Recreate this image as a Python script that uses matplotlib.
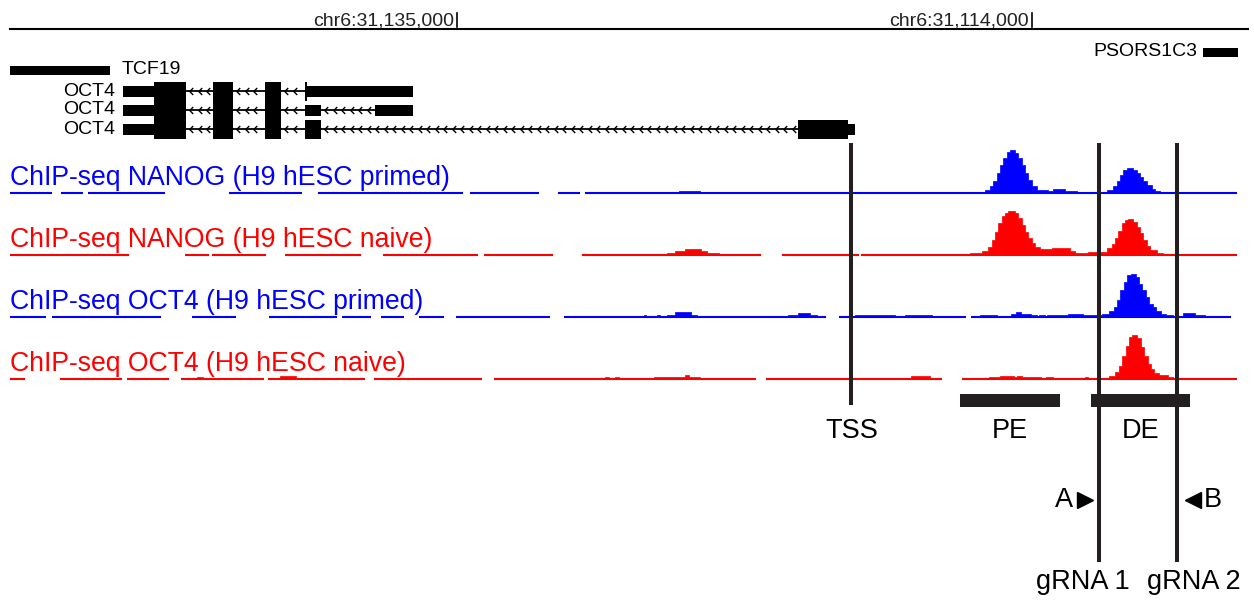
import numpy as np
import matplotlib.pyplot as plt
from matplotlib.path import Path

plt.rcParams['font.family'] = ['Liberation Sans', 'DejaVu Sans']

# the browser window is laid out in screen columns (0..1254), rows grow downwards
tick_pos = [457, 1032]
tick_labels = ['chr6:31,135,000', 'chr6:31,114,000']

# gene annotation track
tcf19_span = (10, 110)
psors1c3_span = (1203, 1238)
oct4_rows = [91, 110, 129]
oct4_iso1 = [(123, 154, 'utr'), (154, 186, 'cds'), (213, 233, 'cds'), (265, 281, 'cds'),
             (305, 307, 'cds'), (307, 413, 'utr')]
oct4_iso2 = [(123, 154, 'utr'), (154, 186, 'cds'), (213, 233, 'cds'), (265, 281, 'cds'),
             (305, 321, 'utr'), (375, 413, 'utr')]
oct4_iso3 = [(123, 154, 'utr'), (154, 186, 'cds'), (213, 233, 'cds'), (265, 281, 'cds'),
             (305, 321, 'cds'), (798, 848, 'cds'), (848, 855, 'utr')]

# ChIP-seq tracks
track_labels = ['ChIP-seq NANOG (H9 hESC primed)', 'ChIP-seq NANOG (H9 hESC naive)',
                'ChIP-seq OCT4 (H9 hESC primed)', 'ChIP-seq OCT4 (H9 hESC naive)']
track_colors = ['#0000ff', '#ff0000', '#0000ff', '#ff0000']
track_base = [193, 255, 317, 379]

# covered stretches (drawn as the baseline)
nanog_primed_cov = [(10, 52), (61, 83), (88, 165), (229, 302), (318, 463), (470, 539),
                    (558, 580), (585, 1237)]
nanog_naive_cov = [(10, 129), (185, 209), (212, 266), (285, 361), (383, 478), (484, 553),
                   (582, 761), (782, 859), (861, 1237)]
oct4_primed_cov = [(10, 46), (52, 161), (192, 236), (269, 337), (342, 371), (381, 404),
                   (419, 444), (456, 550), (564, 826), (839, 966), (971, 1231)]
oct4_naive_cov = [(10, 25), (60, 122), (127, 169), (181, 264), (268, 365), (374, 482),
                  (494, 756), (766, 942), (962, 1237)]

# signal islands: (bin edges, bin heights in px)
nanog_primed_sig = [
    ([679, 700], [2]),
    ([975, 985, 990, 993, 997, 1000, 1003, 1007, 1010, 1015, 1018, 1022, 1025, 1028, 1032,
      1037, 1048, 1053, 1065, 1077],
     [1.5, 3, 7, 12, 20, 28, 35, 41, 43, 40, 35, 28, 20, 13, 7, 3, 2, 4, 2]),
    ([1102, 1107, 1113, 1117, 1120, 1123, 1127, 1133, 1137, 1140, 1143, 1147, 1152, 1155, 1160],
     [1, 3, 7, 12, 18, 23, 25, 23, 20, 16, 12, 8, 4, 2]),
]
nanog_naive_sig = [
    ([667, 675, 685, 701, 707, 719], [2, 4, 6, 4, 2]),
    ([970, 982, 988, 992, 995, 998, 1002, 1005, 1008, 1015, 1018, 1022, 1025, 1028, 1032,
      1035, 1040, 1052, 1070, 1075, 1088, 1097, 1102, 1107, 1112, 1115, 1118, 1122, 1125,
      1128, 1133, 1137, 1140, 1143, 1147, 1150, 1157, 1163],
     [2, 4, 8, 15, 23, 32, 39, 42, 44, 42, 37, 30, 23, 17, 12, 8, 6, 7, 4, 2, 3,
      3, 3, 7, 11, 17, 24, 32, 35, 36, 33, 28, 22, 15, 9, 5, 2]),
]
oct4_primed_sig = [
    ([644, 646], [2]), ([657, 660], [2]), ([667, 675, 691, 697], [2, 5, 2]),
    ([788, 798, 810, 817], [2, 4, 2]), ([855, 895], [2]), ([905, 932], [2]),
    ([980, 997, 1011, 1016, 1021, 1031, 1037], [2, 1, 3, 5, 3, 2]), ([1039, 1045], [2]),
    ([1047, 1068, 1083, 1102, 1109, 1114, 1117, 1120, 1124, 1127, 1131, 1136, 1139, 1142,
      1146, 1149, 1153, 1156, 1161, 1166, 1173],
     [2, 3, 2, 3, 6, 10, 17, 27, 35, 42, 43, 40, 33, 27, 20, 13, 10, 6, 3, 2]),
    ([1183, 1195, 1205], [4, 2]),
]
oct4_naive_sig = [
    ([197, 203], [2]), ([280, 296], [3]), ([605, 609], [2]), ([615, 619], [2]),
    ([654, 685, 689, 700], [2, 4, 2]), ([911, 930], [3]),
    ([989, 1000, 1014, 1017, 1022, 1041], [2, 3, 2, 3, 2]), ([1046, 1053], [2]),
    ([1085, 1088], [2]),
    ([1104, 1109, 1115, 1119, 1122, 1126, 1129, 1132, 1137, 1141, 1144, 1148, 1151, 1154,
      1159, 1168, 1173],
     [1, 3, 7, 13, 23, 33, 42, 44, 41, 32, 23, 15, 10, 6, 4, 2]),
]
track_cov = [nanog_primed_cov, nanog_naive_cov, oct4_primed_cov, oct4_naive_cov]
track_sig = [nanog_primed_sig, nanog_naive_sig, oct4_primed_sig, oct4_naive_sig]

# landmarks
mark_names = ['TSS', 'gRNA 1', 'gRNA 2']
mark_x = [851, 1099, 1177]
mark_bottom = [405, 562, 562]
enh_names = ['PE', 'DE']
enh_start = [960, 1091]
enh_end = [1060, 1190]

ink = '#231f20'

fig = plt.figure(figsize=(12.54, 6.03), dpi=100)
ax = fig.add_axes([0, 0, 1, 1])
ax.set_xlim(0, 1254)
ax.set_ylim(603, 0)
ax.axis('off')

# ruler
ax.plot([10, 1248], [29, 29], color='black', lw=1.5)
for p, lab in zip(tick_pos, tick_labels):
    ax.plot([p, p], [13, 27], color='black', lw=1.2)
    ax.text(p - 3, 25, lab, ha='right', va='baseline', fontsize=14, color='#222222')

# genes
ax.barh([70], [tcf19_span[1] - tcf19_span[0]], left=[tcf19_span[0]], height=9, color='black')
ax.text(122, 70, 'TCF19', ha='left', va='center', fontsize=14)
ax.barh([52], [psors1c3_span[1] - psors1c3_span[0]], left=[psors1c3_span[0]], height=9, color='black')
ax.text(1197, 52, 'PSORS1C3', ha='right', va='center', fontsize=14)

chevron = Path([(0.5, 1), (-0.5, 0), (0.5, -1)], [Path.MOVETO, Path.LINETO, Path.LINETO])
for y, iso in zip(oct4_rows, [oct4_iso1, oct4_iso2, oct4_iso3]):
    ax.text(115, y, 'OCT4', ha='right', va='center', fontsize=14)
    for (s0, e0, _), (s1, e1, _) in zip(iso[:-1], iso[1:]):
        if s1 > e0:
            ax.plot([e0, s1], [y, y], color='black', lw=1.3)
            cx = np.arange(e0 + 5, s1 - 2, 8.5)
            ax.plot(cx, np.full(len(cx), y), ls='none', marker=chevron, ms=5,
                    mfc='none', mec='black', mew=1)
    for s, e, kind in iso:
        ax.barh([y], [e - s], left=[s], height=19 if kind == 'cds' else 11,
                color='black', lw=0)

# ChIP-seq tracks
for lab, col, base, cov, sig in zip(track_labels, track_colors, track_base, track_cov, track_sig):
    for s, e in cov:
        ax.plot([s, e], [base, base], color=col, lw=1.5, solid_capstyle='butt')
    for edges, h in sig:
        xs = np.repeat(np.array(edges, dtype=float), 2)[1:-1]
        ys = np.repeat(np.array(h, dtype=float), 2)
        ax.fill_between(xs, base, base - ys, color=col, lw=0.5)
    ax.text(10, base - 8, lab, ha='left', va='baseline', fontsize=19.2, color=col)

# landmark lines
for x, yb in zip(mark_x, mark_bottom):
    ax.plot([x, x], [143, yb], color=ink, lw=2.9, solid_capstyle='butt')

ax.barh([400.5] * 2, np.array(enh_end) - np.array(enh_start), left=enh_start,
        height=13, color=ink)
for name, s, e in zip(enh_names, enh_start, enh_end):
    ax.text((s + e) / 2, 431, name, ha='center', va='center', fontsize=19.5)

ax.text(mark_x[0] + 1, 431, mark_names[0], ha='center', va='center', fontsize=19.5)
ax.text(mark_x[1] + 31, 582, mark_names[1], ha='right', va='center', fontsize=19.5)
ax.text(mark_x[2] - 30, 582, mark_names[2], ha='left', va='center', fontsize=19.5)

# primer arrows
ax.plot([mark_x[1] - 14], [500], marker='>', ms=11, color='black', ls='none')
ax.text(mark_x[1] - 26, 500, 'A', ha='right', va='center', fontsize=19.5)
ax.plot([mark_x[2] + 16], [500], marker='<', ms=11, color='black', ls='none')
ax.text(mark_x[2] + 27, 500, 'B', ha='left', va='center', fontsize=19.5)

fig.savefig('out.png', dpi=100)
